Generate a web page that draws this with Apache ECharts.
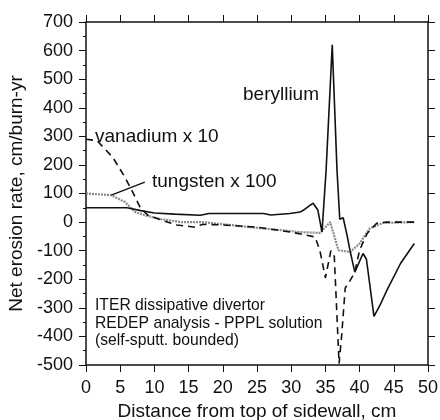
<!DOCTYPE html>
<html>
<head>
<meta charset="utf-8">
<script src="https://cdn.jsdelivr.net/npm/echarts@6/dist/echarts.min.js"></script>
<style>
  html, body { margin: 0; padding: 0; background: #fff; }
  #chart { width: 440px; height: 420px; }
</style>
</head>
<body>
<div id="chart"></div>
<script>
// values: [distance cm, net erosion cm/burn-yr]
const beryllium = [
  [0, 50], [6, 50], [8, 40], [10, 32], [13, 28], [16.7, 24], [18, 30], [22, 30],
  [26, 30], [27, 25], [29.8, 30], [31.3, 35], [32, 45], [33.2, 66], [33.9, 42],
  [34.5, -35], [35.1, 180], [36, 620], [36.7, 180], [37.1, 10], [37.6, 15],
  [38.2, -50], [38.6, -100], [39.3, -175], [40.5, -110], [41, -130], [42.1, -330],
  [43, -290], [44, -238], [46, -144], [48, -75]
];
const tungsten = [
  [0, 100], [3.7, 94], [5.7, 70], [7.2, 35], [8.6, 24], [11, 10], [14, 0], [17, 0],
  [21, -10], [25.4, -21], [31.3, -35], [34.2, -38], [35.7, 0], [36.9, -98],
  [38.6, -105], [40, -75], [41.5, -22], [43.4, -3], [48, 0]
];
const vanadium = [
  [0, 290], [1.6, 285], [3.9, 227], [5.7, 157], [6.9, 101], [7.9, 52], [9, 25],
  [11, 7], [13.3, -10], [16, -18], [17, -8], [20, -10], [25, -18], [30, -35],
  [33.5, -52], [34.2, -100], [35, -195], [35.8, -100], [36.3, -120], [37, -495],
  [37.4, -390], [37.9, -230], [38.6, -205], [39.3, -175], [40, -98], [41.1, -40],
  [42.5, -4], [44, 0], [48, 0]
];
const tungstenLeader = [[3.7, 94], [8.6, 140]];

const xTicks = { min: 0, max: 50, interval: 5 };
const yTicks = { min: -500, max: 700, interval: 100 };

const font = 'Liberation Sans, Arial, sans-serif';
const black = '#111';

const chart = echarts.init(document.getElementById('chart'));

const axisBase = {
  axisLine: { show: true, onZero: false, lineStyle: { color: black, width: 1.5 } },
  axisTick: { show: true, inside: false, length: 7, lineStyle: { color: black, width: 1 } },
  splitLine: { show: false },
  nameTextStyle: { color: black, fontFamily: font, fontSize: 19 }
};

chart.setOption({
  animation: false,
  grid: { left: 86, right: 12, top: 22, bottom: 55, outerBoundsMode: 'none', containLabel: false },
  xAxis: [
    Object.assign({}, axisBase, {
      type: 'value', position: 'bottom', ...xTicks,
      name: 'Distance from top of sidewall, cm', nameLocation: 'middle', nameGap: 37,
      axisLabel: { color: black, fontFamily: font, fontSize: 18, margin: 14 }
    }),
    Object.assign({}, axisBase, {
      type: 'value', position: 'top', ...xTicks,
      axisLabel: { show: false }
    })
  ],
  yAxis: [
    Object.assign({}, axisBase, {
      type: 'value', position: 'left', ...yTicks,
      name: 'Net erosion rate, cm/burn-yr', nameLocation: 'middle', nameGap: 59,
      minorTick: { show: true, splitNumber: 2, length: 3, lineStyle: { color: black } },
      axisLabel: { color: black, fontFamily: font, fontSize: 18, margin: 13 }
    }),
    Object.assign({}, axisBase, {
      type: 'value', position: 'right', ...yTicks,
      axisLabel: { show: false }
    })
  ],
  series: [
    {
      name: 'beryllium', type: 'line', data: beryllium, symbol: 'none',
      lineStyle: { color: black, width: 1.6 }, z: 3
    },
    {
      name: 'tungsten x 100', type: 'line', data: tungsten, symbol: 'none',
      lineStyle: { color: '#8a8a8a', width: 2.2, type: [2, 1] }, z: 2
    },
    {
      name: 'vanadium x 10', type: 'line', data: vanadium, symbol: 'none',
      lineStyle: { color: black, width: 1.6, type: [7, 5] }, z: 2
    },
    {
      name: 'leader', type: 'line', data: tungstenLeader, symbol: 'none',
      lineStyle: { color: black, width: 1.4 }, z: 3
    }
  ],
  graphic: [
    { type: 'text', left: 243, top: 85, style: { text: 'beryllium', font: '19px ' + font, fill: black } },
    { type: 'text', left: 95, top: 127, style: { text: 'vanadium x 10', font: '19px ' + font, fill: black } },
    { type: 'text', left: 152, top: 172, style: { text: 'tungsten x 100', font: '19px ' + font, fill: black } },
    {
      type: 'text', left: 95, top: 297,
      style: {
        text: 'ITER dissipative divertor\nREDEP analysis - PPPL solution\n(self-sputt. bounded)',
        font: '15.7px ' + font, lineHeight: 17.5, fill: black
      }
    }
  ]
});
</script>
</body>
</html>
